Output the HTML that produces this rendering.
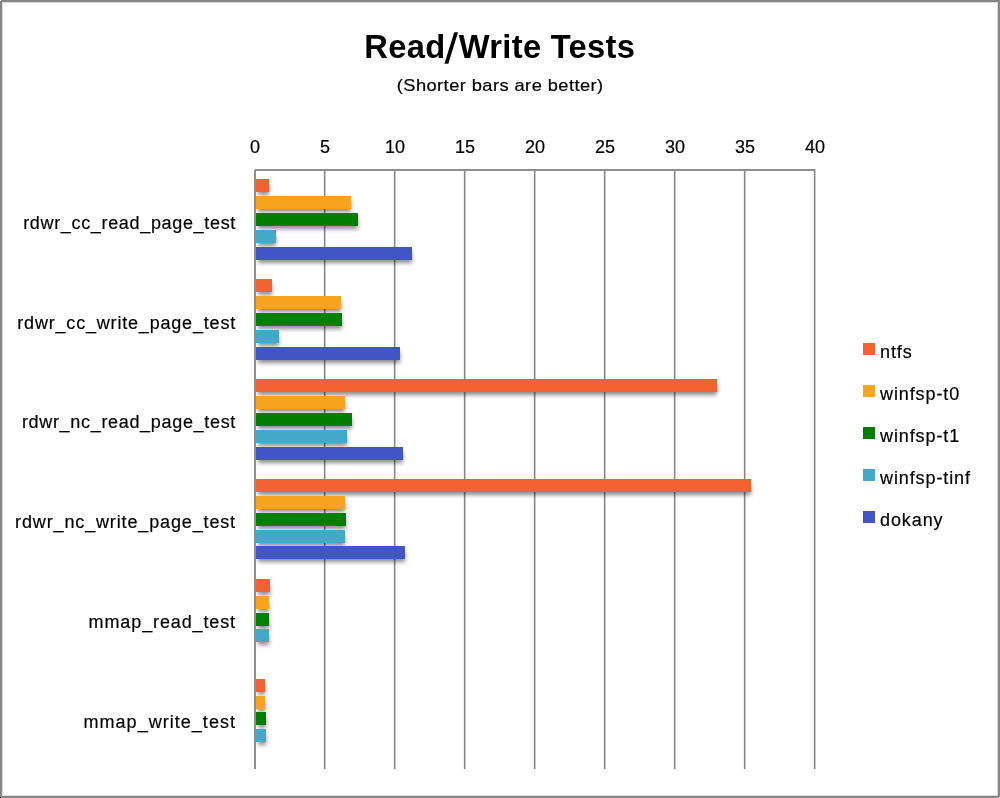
<!DOCTYPE html>
<html><head><meta charset="utf-8">
<style>
html,body{margin:0;padding:0;background:#fff;}
body{width:1000px;height:798px;position:relative;overflow:hidden;font-family:"Liberation Sans",sans-serif;color:#000;}
.frame{position:absolute;left:0;top:0;width:996px;height:794px;border:2px solid #878787;box-shadow:inset 0 0 0 1px #dadada;}
.px{position:absolute;width:1px;height:1px;}
.title{position:absolute;left:0;width:1000px;top:29px;text-align:center;font-weight:bold;font-size:33px;line-height:36px;letter-spacing:0.3px;}
.title span{display:inline-block;transform:scaleX(0.99);transform-origin:50% 50%;margin-left:0px;}
.title i{font-style:normal;display:inline-block;margin:0 3px 0 1px;transform:translateY(1.5px) scaleY(1.29) skewX(-12deg);}
.sub{position:absolute;left:0;width:1000px;top:76px;text-align:center;font-size:17px;line-height:20px;letter-spacing:0.4px;}
.sub span{display:inline-block;transform:scaleX(1.075);transform-origin:50% 50%;}
.g{position:absolute;top:169px;height:600px;width:1px;background:#888;box-shadow:1px 0 0 #c6c6c6,-1px 0 0 #eeeeee;}
.top{position:absolute;left:255px;top:169px;width:560px;height:2px;background:#8e8e8e;}
.yax{position:absolute;left:254px;top:170px;width:2px;height:599px;background:#8e8e8e;}
.b{position:absolute;left:256px;height:13px;box-shadow:1px 4px 4px -1px rgba(0,0,0,0.45);}
.ax,.cl,.lt,.title,.sub{will-change:transform;}
.ax,.cl,.lt,.sub{-webkit-text-stroke:0.2px #000;}
.ax{position:absolute;top:137px;width:60px;text-align:center;font-size:18px;line-height:20px;}
.cl{position:absolute;left:0;width:236px;text-align:right;font-size:18px;line-height:20px;letter-spacing:0.75px;}
.ls{position:absolute;left:863px;width:12px;height:12px;}
.lt{position:absolute;left:880px;font-size:18px;line-height:20px;white-space:nowrap;letter-spacing:0.9px;}
</style></head><body>
<div class="frame"></div>
<div class="px" style="left:0;top:0;background:#fff"></div>
<div class="px" style="left:999px;top:797px;background:#fff"></div>
<div class="px" style="left:0;top:797px;background:#000"></div>
<div class="px" style="left:1px;top:797px;background:#b0b0b0"></div>
<div class="title"><span>Read<i>/</i>Write Tests</span></div>
<div class="sub"><span>(Shorter bars are better)</span></div>
<div class="g" style="left:324px"></div>
<div class="g" style="left:394px"></div>
<div class="g" style="left:464px"></div>
<div class="g" style="left:534px"></div>
<div class="g" style="left:604px"></div>
<div class="g" style="left:674px"></div>
<div class="g" style="left:744px"></div>
<div class="g" style="left:814px"></div>

<div class="top"></div>
<div class="b" style="top:179px;width:13px;background:#f26130"></div>
<div class="b" style="top:196px;width:95px;background:#f9a41e"></div>
<div class="b" style="top:213px;width:102px;background:#007f00"></div>
<div class="b" style="top:230px;width:20px;background:#43a9c9"></div>
<div class="b" style="top:247px;width:156px;background:#4156c5"></div>
<div class="b" style="top:279px;width:16px;background:#f26130"></div>
<div class="b" style="top:296px;width:85px;background:#f9a41e"></div>
<div class="b" style="top:313px;width:86px;background:#007f00"></div>
<div class="b" style="top:330px;width:23px;background:#43a9c9"></div>
<div class="b" style="top:347px;width:144px;background:#4156c5"></div>
<div class="b" style="top:379px;width:461px;background:#f26130"></div>
<div class="b" style="top:396px;width:89px;background:#f9a41e"></div>
<div class="b" style="top:413px;width:96px;background:#007f00"></div>
<div class="b" style="top:430px;width:91px;background:#43a9c9"></div>
<div class="b" style="top:447px;width:147px;background:#4156c5"></div>
<div class="b" style="top:479px;width:495px;background:#f26130"></div>
<div class="b" style="top:496px;width:89px;background:#f9a41e"></div>
<div class="b" style="top:513px;width:90px;background:#007f00"></div>
<div class="b" style="top:530px;width:89px;background:#43a9c9"></div>
<div class="b" style="top:546px;width:149px;background:#4156c5"></div>
<div class="b" style="top:579px;width:14px;background:#f26130"></div>
<div class="b" style="top:596px;width:13px;background:#f9a41e"></div>
<div class="b" style="top:613px;width:13px;background:#007f00"></div>
<div class="b" style="top:629px;width:13px;background:#43a9c9"></div>
<div class="b" style="top:679px;width:9px;background:#f26130"></div>
<div class="b" style="top:696px;width:9px;background:#f9a41e"></div>
<div class="b" style="top:712px;width:10px;background:#007f00"></div>
<div class="b" style="top:729px;width:10px;background:#43a9c9"></div>

<div class="yax"></div>
<div class="ax" style="left:224.5px">0</div>
<div class="ax" style="left:294.5px">5</div>
<div class="ax" style="left:364.5px">10</div>
<div class="ax" style="left:434.5px">15</div>
<div class="ax" style="left:504.5px">20</div>
<div class="ax" style="left:574.5px">25</div>
<div class="ax" style="left:644.5px">30</div>
<div class="ax" style="left:714.5px">35</div>
<div class="ax" style="left:784.5px">40</div>
<div class="cl" style="top:213.0px;letter-spacing:0.67px">rdwr_cc_read_page_test</div>
<div class="cl" style="top:312.7px;letter-spacing:0.81px">rdwr_cc_write_page_test</div>
<div class="cl" style="top:412.4px;letter-spacing:0.68px">rdwr_nc_read_page_test</div>
<div class="cl" style="top:512.1px;letter-spacing:0.86px">rdwr_nc_write_page_test</div>
<div class="cl" style="top:611.8px;letter-spacing:0.88px">mmap_read_test</div>
<div class="cl" style="top:711.5px;letter-spacing:1.03px">mmap_write_test</div>
<div class="ls" style="top:343px;background:#f26130"></div>
<div class="lt" style="top:342px">ntfs</div>
<div class="ls" style="top:385px;background:#f9a41e"></div>
<div class="lt" style="top:384px">winfsp-t0</div>
<div class="ls" style="top:427px;background:#007f00"></div>
<div class="lt" style="top:426px">winfsp-t1</div>
<div class="ls" style="top:469px;background:#43a9c9"></div>
<div class="lt" style="top:468px">winfsp-tinf</div>
<div class="ls" style="top:511px;background:#4156c5"></div>
<div class="lt" style="top:510px">dokany</div>

</body></html>
